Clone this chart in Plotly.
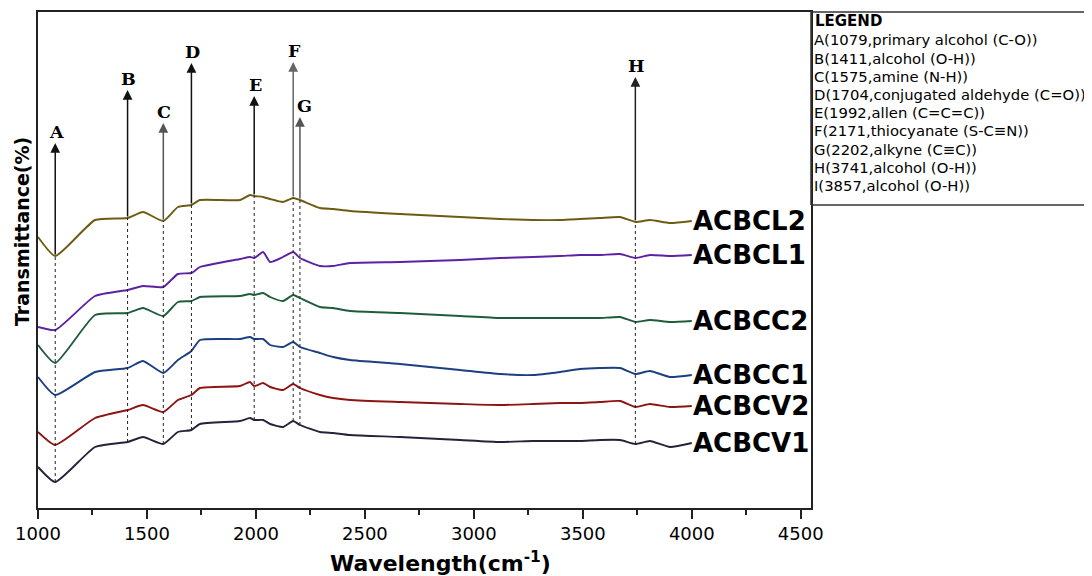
import numpy as np
import plotly.graph_objects as go

# Wavenumber grid (cm^-1)
wavenumber = [1000, 1079, 1262, 1411, 1482, 1575, 1642, 1704, 1743, 1927, 1973, 1992,
              2033, 2065, 2124, 2171, 2202, 2294, 2354, 2432, 2661, 2937, 3120, 3272,
              3396, 3487, 3579, 3671, 3741, 3808, 3900, 4000]

# Offset transmittance curves (arbitrary units, stacked)
acbcl2 = [271, 252, 288, 290, 296, 287, 301, 303, 308, 308, 313, 312, 311, 309, 306, 310,
          308, 300, 299, 297, 294, 291, 289, 288, 288, 289, 290, 291, 286, 288, 285, 287]
acbcl1 = [181, 178, 212, 218, 222, 221, 234, 235, 241, 249, 251, 250, 256, 246, 251, 256,
          250, 242, 242, 245, 246, 248, 250, 251, 252, 253, 253, 254, 250, 253, 252, 253]
acbcc2 = [163, 145, 193, 195, 200, 192, 206, 207, 211, 212, 214, 213, 215, 211, 207, 213,
          210, 201, 200, 197, 195, 192, 190, 190, 190, 190, 190, 191, 186, 188, 186, 187]
acbcc1 = [131, 113, 136, 140, 147, 135, 148, 157, 168, 169, 171, 169, 169, 163, 161, 166,
          161, 155, 151, 148, 144, 138, 134, 133, 136, 139, 140, 140, 134, 137, 131, 133]
acbcv2 = [76, 63, 90, 98, 103, 96, 108, 113, 120, 122, 126, 122, 125, 121, 118, 124,
          120, 113, 110, 108, 106, 104, 103, 104, 105, 105, 106, 107, 101, 104, 101, 102]
acbcv1 = [41, 26, 61, 66, 71, 64, 76, 78, 84, 87, 90, 88, 88, 84, 81, 87,
          83, 76, 75, 73, 71, 68, 66, 67, 67, 67, 68, 68, 64, 67, 61, 65]

series_names = ["ACBCL2", "ACBCL1", "ACBCC2", "ACBCC1", "ACBCV2", "ACBCV1"]
series_values = [acbcl2, acbcl1, acbcc2, acbcc1, acbcv2, acbcv1]
series_colors = ["#6b5c12", "#5b22a3", "#1f5c3c", "#1b3f82", "#8e1414", "#23233a"]

# Peak markers
peak_letters = ["A", "B", "C", "D", "E", "F", "G", "H"]
peak_positions = [1079, 1411, 1575, 1704, 1992, 2171, 2202, 3741]
peak_arrow_tips = [365, 418, 385, 445, 412, 446, 391, 431]
peak_colors = ["#111", "#111", "#555", "#111", "#111", "#666", "#555", "#222"]

legend_title = "LEGEND"
legend_lines = [
    "A(1079,primary alcohol (C-O))",
    "B(1411,alcohol (O-H))",
    "C(1575,amine (N-H))",
    "D(1704,conjugated aldehyde (C=O))",
    "E(1992,allen (C=C=C))",
    "F(2171,thiocyanate (S-C\u2261N))",
    "G(2202,alkyne (C\u2261C))",
    "H(3741,alcohol (O-H))",
    "I(3857,alcohol (O-H))",
]

# Page has an 8px body margin; figure is sized so the plot lands at the reference place
W, H = 1092, 576
ML, MT = 30, 4
PW, PH = 773, 496
MR, MB = W - ML - PW, H - MT - PH


def py(screen_y):
    """screen pixel y (reference) -> paper y"""
    return (MT + PH - (screen_y - 8)) / PH


def px(screen_x):
    return (screen_x - 8 - ML) / PW


fig = go.Figure()
for name, vals, col in zip(series_names, series_values, series_colors):
    fig.add_trace(go.Scatter(x=wavenumber, y=vals, mode="lines", name=name,
                             line=dict(color=col, width=1.9, shape="spline", smoothing=0.5),
                             showlegend=False))
    fig.add_annotation(x=wavenumber[-1], y=vals[-1], xref="x", yref="y", text="<b>%s</b>" % name,
                       showarrow=False, xanchor="left", yanchor="middle", xshift=-1,
                       font=dict(family="DejaVu Sans", size=26, color="#000"))

for letter, pos, tip, col in zip(peak_letters, peak_positions, peak_arrow_tips, peak_colors):
    top = float(np.interp(pos, wavenumber, acbcl2))
    bottom = float(np.interp(pos, wavenumber, acbcv1))
    fig.add_shape(type="line", xref="x", yref="y", x0=pos, x1=pos, y0=bottom, y1=top,
                  line=dict(color="#222", width=1, dash="3px,3px"))
    fig.add_annotation(x=pos, y=tip, ax=pos, ay=top, xref="x", yref="y", axref="x", ayref="y",
                       text="", showarrow=True, arrowhead=2, arrowsize=1.3, arrowwidth=1.5,
                       arrowcolor=col)
    fig.add_annotation(x=pos, y=tip, xref="x", yref="y", text="<b>%s</b>" % letter,
                       showarrow=False, yanchor="bottom", yshift=-1,
                       xshift=5 if letter == "G" else 1,
                       font=dict(family="DejaVu Serif", size=17.5, color="#000"))

# legend box (open to the right edge of the page)
lg_bottom = py(205)
fig.add_shape(type="line", xref="paper", yref="paper", x0=1.0, x1=1.0, y0=lg_bottom, y1=1.0,
              line=dict(color="#333", width=1.5))
fig.add_shape(type="line", xref="paper", yref="paper", x0=1.0, x1=1.5, y0=1.0, y1=1.0,
              line=dict(color="#333", width=1.5))
fig.add_shape(type="line", xref="paper", yref="paper", x0=1.0, x1=1.5, y0=lg_bottom, y1=lg_bottom,
              line=dict(color="#333", width=1.5))
fig.add_annotation(xref="paper", yref="paper", x=px(813), y=py(21), text="<b>%s</b>" % legend_title,
                   showarrow=False, xanchor="left", yanchor="middle",
                   font=dict(family="DejaVu Sans", size=15, color="#000"))
for i, line in enumerate(legend_lines):
    fig.add_annotation(xref="paper", yref="paper", x=px(812), y=py(40 + i * 18.2), text=line,
                       showarrow=False, xanchor="left", yanchor="middle",
                       font=dict(family="DejaVu Sans", size=14.8, color="#000"))

# y title
fig.add_annotation(xref="paper", yref="paper", x=px(22), y=py(232), text="<b>Transmittance(%)</b>",
                   showarrow=False, textangle=-90, xanchor="center", yanchor="middle",
                   font=dict(family="DejaVu Sans", size=19, color="#000"))
# x title
fig.add_annotation(xref="paper", yref="paper", x=px(440), y=py(562), text="<b>Wavelength(cm<sup>-1</sup>)</b>",
                   showarrow=False, xanchor="center", yanchor="middle",
                   font=dict(family="DejaVu Sans", size=22, color="#000"))

fig.update_layout(
    width=W, height=H,
    margin=dict(l=ML, r=MR, t=MT, b=MB, autoexpand=False),
    paper_bgcolor="white", plot_bgcolor="white",
    xaxis=dict(range=[1000, 4547], tickvals=[1000, 1500, 2000, 2500, 3000, 3500, 4000, 4500],
               ticks="outside", ticklen=9, tickwidth=1.5, tickcolor="#222",
               minor=dict(ticks="outside", ticklen=5, dtick=250, tick0=1000, tickcolor="#222", tickwidth=1.5),
               showline=True, linecolor="#222", linewidth=2, mirror=True, showgrid=False, zeroline=False,
               ticklabelstandoff=-1,
               tickfont=dict(family="DejaVu Sans", size=18, color="#000")),
    yaxis=dict(range=[0, 496], showticklabels=False, ticks="", showline=True, linecolor="#222",
               linewidth=2, mirror=True, showgrid=False, zeroline=False),
)

fig.write_html("out.html")
